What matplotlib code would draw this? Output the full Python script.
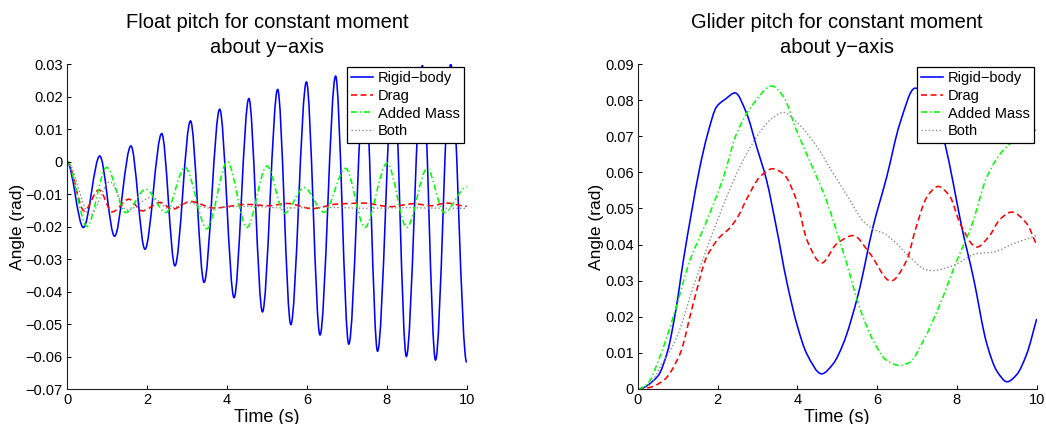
import numpy as np
import matplotlib
matplotlib.use("Agg")
import matplotlib.pyplot as plt
from matplotlib.path import Path
from matplotlib.patches import PathPatch
from matplotlib.lines import Line2D
from matplotlib.ticker import FuncFormatter, MultipleLocator

plt.rcParams["font.family"] = ["Liberation Sans", "DejaVu Sans"]
plt.rcParams["lines.scale_dashes"] = False

# ---- Float: pitch angle knots (time s, angle rad) ----
float_rigid_t = [0, 0.41, 0.82, 1.19, 1.60, 1.95, 2.37, 2.70, 3.09, 3.43, 3.82, 4.18, 4.55, 4.89,
                 5.27, 5.60, 5.99, 6.33, 6.72, 7.05, 7.45, 7.77, 8.17, 8.49, 8.89, 9.22, 9.60, 10.0]
float_rigid_v = [0, -0.0203, 0.0017, -0.0230, 0.0048, -0.0270, 0.0086, -0.0321, 0.0125, -0.0372,
                 0.0161, -0.0419, 0.0194, -0.0463, 0.0222, -0.0502, 0.0245, -0.0534, 0.0263, -0.0562,
                 0.0277, -0.0584, 0.0288, -0.0600, 0.0295, -0.0611, 0.0299, -0.0618]

float_drag_t = [0, 0.43, 0.80, 1.13, 1.55, 1.88, 2.34, 2.63, 3.09, 3.68, 4.50, 5.05, 5.51, 6.13,
                6.75, 7.43, 8.09, 8.67, 9.10, 9.50, 10.0]
float_drag_v = [0, -0.0152, -0.0087, -0.0155, -0.0116, -0.0152, -0.0126, -0.0147, -0.0123, -0.0143,
                -0.0132, -0.0136, -0.0129, -0.0145, -0.0131, -0.0128, -0.0139, -0.0130, -0.0136,
                -0.0128, -0.0138]

float_added_t = [0, 0.50, 0.99, 1.47, 1.97, 2.47, 2.95, 3.50, 4.01, 4.50, 5.00, 5.44, 5.93, 6.43,
                 6.97, 7.45, 8.01, 8.50, 9.01, 9.44, 10.0]
float_added_v = [0, -0.0200, -0.0018, -0.0157, -0.0085, -0.0157, -0.0018, -0.0207, -0.0001, -0.0203,
                 -0.0014, -0.0159, -0.0080, -0.0156, -0.0021, -0.0203, -0.0005, -0.0203, -0.0022,
                 -0.0157, -0.0078]

float_both_t = [0, 0.58, 1.07, 1.50, 2.12, 2.55, 3.05, 3.55, 4.50, 5.50, 6.50, 7.50, 8.50, 9.50, 10.0]
float_both_v = [0, -0.0165, -0.0062, -0.0150, -0.0110, -0.0145, -0.0127, -0.0143, -0.0138, -0.0143,
                -0.0141, -0.0144, -0.0142, -0.0144, -0.0144]

# ---- Glider: pitch angle knots (time s, angle rad) ----
glider_rigid_t = [0, 0.50, 0.75, 0.95, 1.15, 1.35, 1.55, 1.75, 1.98, 2.20, 2.44, 2.73, 2.98,
                  3.23, 3.48, 3.73, 4.00, 4.24, 4.61, 4.90, 5.15, 5.53, 5.90, 6.24, 6.57, 6.95, 7.20,
                  7.45, 7.70, 7.91, 8.12, 8.41, 8.75, 9.00, 9.26, 9.50, 9.75, 10.0]
glider_rigid_v = [0, 0.0035, 0.0105, 0.0215, 0.0360, 0.0490, 0.0610, 0.0705, 0.0782,
                  0.0803, 0.0820, 0.0763, 0.0671, 0.0578, 0.0445, 0.0300, 0.0175, 0.0097, 0.0042,
                  0.0070, 0.0125, 0.0264, 0.0450, 0.0587, 0.0735, 0.0833, 0.0823, 0.0780, 0.0680,
                  0.0569, 0.0449, 0.0310, 0.0125, 0.0050, 0.0020, 0.0040, 0.0097, 0.0194]

glider_drag_t = [0, 0.25, 0.64, 1.06, 1.39, 1.73, 2.06, 2.30, 2.50, 2.75, 3.06, 3.38, 3.65, 3.98,
                 4.25, 4.61, 4.99, 5.40, 5.82, 6.34, 6.74, 6.97, 7.25, 7.53, 7.83, 8.08, 8.50, 8.82,
                 9.08, 9.37, 9.75, 10.0]
glider_drag_v = [0, 0.0003, 0.0023, 0.0097, 0.0236, 0.0366, 0.0421, 0.0445, 0.0475, 0.0530,
                 0.0587, 0.0610, 0.0596, 0.0523, 0.0410, 0.0349, 0.0402, 0.0425, 0.0375, 0.0299,
                 0.0356, 0.0445, 0.0532, 0.0561, 0.0532, 0.0458, 0.0393, 0.0425, 0.0470, 0.0490,
                 0.0458, 0.0398]

glider_added_t = [0, 0.25, 0.52, 0.89, 1.31, 1.69, 2.15, 2.48, 2.90, 3.36, 3.65, 3.98, 4.40, 4.73,
                  4.94, 5.24, 5.53, 5.90, 6.24, 6.57, 6.82, 7.16, 7.58, 8.00, 8.37, 8.75, 9.16, 9.58,
                  10.0]
glider_added_v = [0, 0.0015, 0.0079, 0.0199, 0.0356, 0.0455, 0.0587, 0.0708, 0.0790, 0.0839,
                  0.0810, 0.0716, 0.0609, 0.0522, 0.0452, 0.0347, 0.0236, 0.0134, 0.0079, 0.0065,
                  0.0074, 0.0134, 0.0236, 0.0356, 0.0453, 0.0587, 0.0661, 0.0698, 0.0718]

glider_both_t = [0, 0.30, 0.56, 0.98, 1.39, 1.81, 2.23, 2.56, 2.98, 3.32, 3.65, 3.98, 4.49, 4.90,
                 5.32, 5.65, 5.95, 6.15, 6.40, 6.82, 7.24, 7.41, 7.91, 8.50, 8.91, 9.41, 10.0]
glider_both_v = [0, 0.0012, 0.0060, 0.0143, 0.0282, 0.0412, 0.0532, 0.0615, 0.0698, 0.0745,
                 0.0766, 0.0740, 0.0671, 0.0597, 0.0523, 0.0465, 0.0440, 0.0432, 0.0412, 0.0365,
                 0.0330, 0.0328, 0.0342, 0.0375, 0.0379, 0.0402, 0.0425]

series_labels = ["Rigid\u2212body", "Drag", "Added Mass", "Both"]
titles = ["Float pitch for constant moment\nabout y\u2212axis",
          "Glider pitch for constant moment\nabout y\u2212axis"]
x_label = "Time (s)"
y_label = "Angle (rad)"

styles = [
    dict(color="#0000ff", lw=1.15, ls="-"),
    dict(color="#ff0000", lw=1.15, ls=(0, (4.3, 2.6))),
    dict(color="#00ff00", lw=1.15, ls=(0, (4.3, 2.0, 1.0, 2.0))),
    dict(color="#8c8c8c", lw=1.0, ls=(0, (1.0, 1.6))),
]


def knot_slopes(t, v, end_secant):
    """Monotone (PCHIP-style) tangents at each knot; flat at local extrema."""
    t = np.asarray(t, float)
    v = np.asarray(v, float)
    h = np.diff(t)
    d = np.diff(v) / h
    m = np.zeros_like(v)
    for i in range(1, len(v) - 1):
        if d[i - 1] * d[i] > 0:
            w1 = 2 * h[i] + h[i - 1]
            w2 = h[i] + 2 * h[i - 1]
            m[i] = (w1 + w2) / (w1 / d[i - 1] + w2 / d[i])
    if end_secant:
        m[-1] = d[-1]
    return m


def smooth_path(t, v, end_secant=False):
    """Cubic Bezier path through the knots (drawn by matplotlib's path renderer)."""
    m = knot_slopes(t, v, end_secant)
    verts = [(t[0], v[0])]
    codes = [Path.MOVETO]
    for i in range(len(t) - 1):
        dt = t[i + 1] - t[i]
        verts += [(t[i] + dt / 3, v[i] + m[i] * dt / 3),
                  (t[i + 1] - dt / 3, v[i + 1] - m[i + 1] * dt / 3),
                  (t[i + 1], v[i + 1])]
        codes += [Path.CURVE4] * 3
    return Path(verts, codes)


def fmt(x, _pos):
    x = round(x, 6) + 0.0
    return f"{x:g}".replace("-", "\u2212")


W, H = 1046, 424
fig = plt.figure(figsize=(W / 100, H / 100), dpi=100)
ax_left = fig.add_axes([67 / W, 1 - 389 / H, (466.7 - 67) / W, (389 - 64) / H])
ax_right = fig.add_axes([637.7 / W, 1 - 389 / H, (1036.7 - 637.7) / W, (389 - 64) / H])

panels = [
    (ax_left, [(float_rigid_t, float_rigid_v), (float_drag_t, float_drag_v),
               (float_added_t, float_added_v), (float_both_t, float_both_v)],
     (-0.07, 0.03), False, titles[0]),
    (ax_right, [(glider_rigid_t, glider_rigid_v), (glider_drag_t, glider_drag_v),
                (glider_added_t, glider_added_v), (glider_both_t, glider_both_v)],
     (0.0, 0.09), True, titles[1]),
]

for ax, curves, ylim, end_secant, title in panels:
    for (t, v), st in zip(curves, styles):
        patch = PathPatch(smooth_path(t, v, end_secant), fill=False, edgecolor=st["color"],
                          lw=st["lw"], linestyle=st["ls"], capstyle="butt", joinstyle="round")
        ax.add_patch(patch)
    ax.set_xlim(0, 10)
    ax.set_ylim(*ylim)
    ax.xaxis.set_major_locator(MultipleLocator(2))
    ax.yaxis.set_major_locator(MultipleLocator(0.01))
    ax.xaxis.set_major_formatter(FuncFormatter(fmt))
    ax.yaxis.set_major_formatter(FuncFormatter(fmt))
    ax.tick_params(direction="in", length=3, width=0.7, labelsize=10.5, pad=3, colors="black")
    for side in ("top", "right"):
        ax.spines[side].set_visible(False)
    for side in ("left", "bottom"):
        ax.spines[side].set_linewidth(0.8)
        ax.spines[side].set_color("#202020")
    ax.set_xlabel(x_label, fontsize=13, labelpad=1)
    ax.set_ylabel(y_label, fontsize=12.5, labelpad=0.5)
    ax.set_title(title, fontsize=14.5, linespacing=1.38, pad=8)

    handles = [Line2D([], [], color=st["color"], lw=st["lw"], linestyle=st["ls"]) for st in styles]
    leg = ax.legend(handles, series_labels, loc="upper right", fontsize=10.5, frameon=True,
                    fancybox=False, framealpha=1, edgecolor="black", borderpad=0.3,
                    labelspacing=0.25, handlelength=1.5, handletextpad=0.3, borderaxespad=0.2)
    leg.get_frame().set_linewidth(0.9)

fig.savefig("out.png", dpi=100, facecolor="white")
